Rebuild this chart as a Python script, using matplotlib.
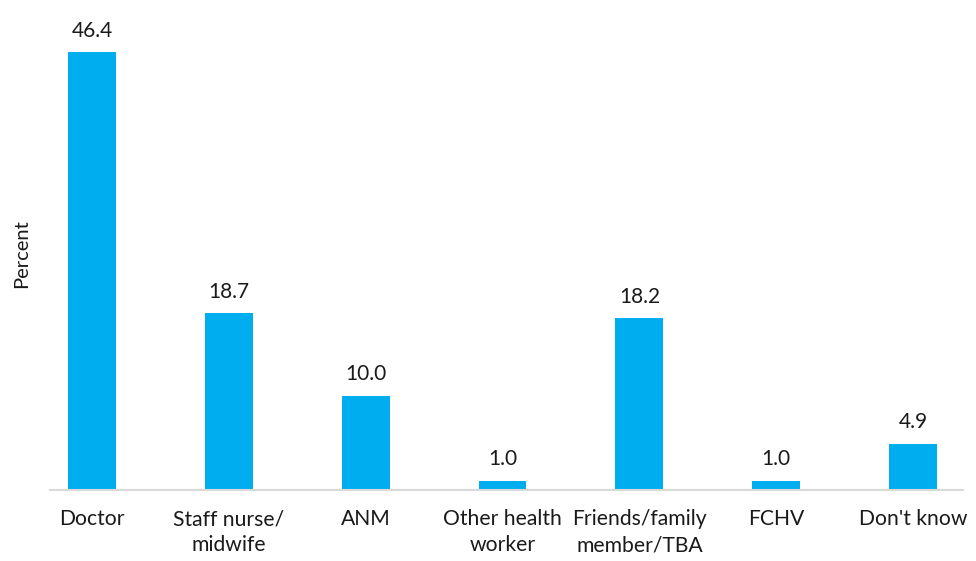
import matplotlib
matplotlib.use("Agg")
import matplotlib.pyplot as plt
import numpy as np

# data
categories = ["Doctor", "Staff nurse/\nmidwife", "ANM", "Other health\nworker",
              "Friends/family\nmember/TBA", "FCHV", "Don't know"]
percent = [46.4, 18.7, 10.0, 1.0, 18.2, 1.0, 4.9]

plt.rcParams['font.family'] = ['Lato', 'DejaVu Sans']

fig = plt.figure(figsize=(9.76, 5.61), dpi=100)
ax = fig.add_axes([50 / 976, 71 / 561, 913 / 976, 472 / 561])

x = np.arange(len(categories))
bars = ax.bar(x, percent, width=0.35, color="#00adef")

for b, v in zip(bars, percent):
    ax.text(b.get_x() + b.get_width() / 2, v + 1.2, f"{v:.1f}",
            ha="center", va="bottom", fontsize=15, color="#1a1a1a")

ax.set_xlim(-0.307, 6.365)
ax.set_ylim(0, 50)
ax.set_xticks(x)
ax.set_xticklabels(categories, fontsize=15.2, color="#1a1a1a", linespacing=1.35)
ax.tick_params(axis="x", length=0, pad=14)
ax.set_yticks([])
ax.set_ylabel("Percent", fontsize=14.5, color="#1a1a1a", labelpad=14)

for s in ["top", "right", "left"]:
    ax.spines[s].set_visible(False)
ax.spines["bottom"].set_color("#d9d9d9")
ax.spines["bottom"].set_linewidth(1.5)

fig.savefig("out.png", dpi=100)
